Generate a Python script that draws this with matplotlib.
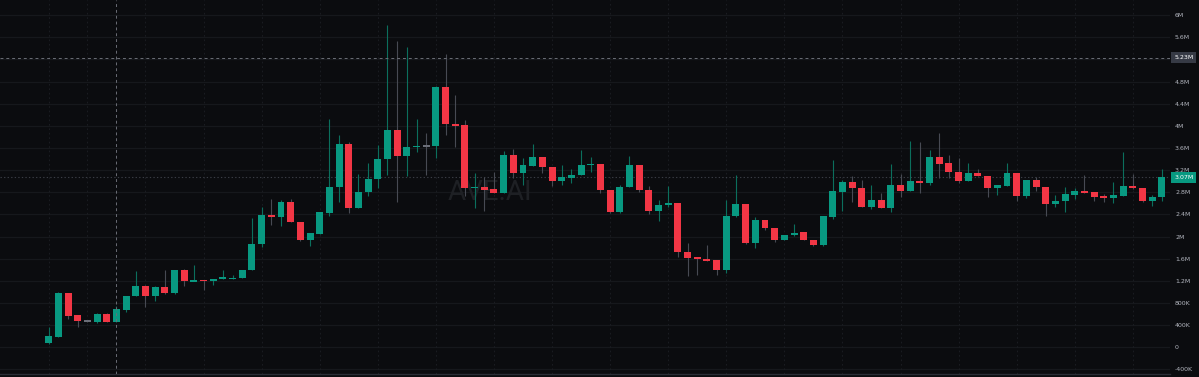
import matplotlib
matplotlib.use("Agg")
import matplotlib.pyplot as plt
import numpy as np

# ---- data (values in millions) ----
opens = [
    0.07, 0.19, 0.98, 0.58, 0.47, 0.46, 0.61, 0.46, 0.68, 0.92,
    1.11, 0.92, 1.09, 0.98, 1.39, 1.19, 1.22, 1.19, 1.24, 1.23,
    1.25, 1.40, 1.86, 2.39, 2.35, 2.62, 2.27, 1.93, 2.04, 2.43,
    2.90, 3.68, 2.51, 2.80, 3.04, 3.41, 3.92, 3.46, 3.61, 3.64,
    3.63, 4.71, 4.04, 4.01, 2.88, 2.89, 2.86, 2.79, 3.47, 3.14,
    3.28, 3.43, 3.25, 3.01, 3.06, 3.11, 3.29, 3.31, 2.85, 2.44,
    2.90, 3.29, 2.85, 2.46, 2.57, 2.60, 1.72, 1.63, 1.60, 1.57,
    1.40, 2.37, 2.59, 1.88, 2.30, 2.16, 1.94, 2.02, 2.08, 1.94,
    1.84, 2.36, 2.81, 2.98, 2.88, 2.54, 2.66, 2.52, 2.93, 2.82,
    3.00, 2.97, 3.44, 3.33, 3.17, 3.01, 3.15, 3.10, 2.87, 2.92,
    3.15, 2.73, 3.02, 2.90, 2.58, 2.64, 2.75, 2.83, 2.80, 2.73,
    2.70, 2.74, 2.91, 2.87, 2.64, 2.71]
closes = [
    0.20, 0.98, 0.57, 0.48, 0.47, 0.61, 0.46, 0.69, 0.92, 1.11,
    0.92, 1.09, 0.98, 1.39, 1.19, 1.21, 1.19, 1.23, 1.26, 1.26,
    1.40, 1.87, 2.39, 2.35, 2.62, 2.27, 1.93, 2.06, 2.44, 2.90,
    3.68, 2.51, 2.81, 3.04, 3.41, 3.92, 3.46, 3.61, 3.64, 3.64,
    4.71, 4.04, 4.00, 2.88, 2.89, 2.85, 2.79, 3.47, 3.14, 3.29,
    3.43, 3.25, 3.01, 3.07, 3.11, 3.29, 3.31, 2.84, 2.44, 2.90,
    3.29, 2.84, 2.46, 2.57, 2.61, 1.72, 1.61, 1.59, 1.56, 1.40,
    2.38, 2.58, 1.88, 2.30, 2.15, 1.94, 2.02, 2.07, 1.94, 1.84,
    2.38, 2.82, 2.98, 2.88, 2.54, 2.66, 2.52, 2.93, 2.83, 3.00,
    2.97, 3.44, 3.32, 3.17, 3.01, 3.15, 3.10, 2.87, 2.93, 3.15,
    2.73, 3.02, 2.90, 2.58, 2.64, 2.77, 2.83, 2.79, 2.72, 2.70,
    2.75, 2.91, 2.87, 2.64, 2.71, 3.07]
highs = [
    0.37, 1.00, 0.99, 0.58, 0.49, 0.62, 0.62, 0.75, 0.93, 1.38,
    1.12, 1.10, 1.39, 1.40, 1.42, 1.49, 1.22, 1.24, 1.40, 1.30,
    1.40, 2.34, 2.54, 2.68, 2.66, 2.68, 2.27, 2.07, 2.44, 4.12,
    3.83, 3.71, 3.13, 3.33, 3.65, 5.82, 5.54, 5.43, 4.12, 3.88,
    4.72, 5.29, 4.55, 4.10, 3.15, 3.07, 3.16, 3.55, 3.58, 3.42,
    3.67, 3.44, 3.25, 3.29, 3.23, 3.56, 3.44, 3.31, 2.85, 2.94,
    3.46, 3.29, 2.92, 2.66, 2.92, 2.61, 1.89, 1.63, 1.85, 1.57,
    2.66, 3.11, 2.59, 2.35, 2.30, 2.16, 2.02, 2.23, 2.08, 1.94,
    2.38, 3.38, 3.02, 3.09, 3.02, 2.93, 2.78, 3.31, 3.13, 3.73,
    3.70, 3.56, 3.88, 3.47, 3.42, 3.33, 3.23, 3.10, 2.93, 3.33,
    3.15, 3.02, 3.07, 2.90, 2.76, 2.89, 2.87, 3.11, 2.80, 2.77,
    2.99, 3.52, 3.13, 2.87, 2.75, 3.22]
lows = [
    0.06, 0.18, 0.51, 0.37, 0.45, 0.44, 0.46, 0.46, 0.63, 0.92,
    0.73, 0.84, 0.96, 0.97, 1.11, 1.19, 1.04, 1.13, 1.24, 1.23,
    1.25, 1.40, 1.82, 2.21, 2.20, 2.26, 1.92, 1.83, 2.04, 2.37,
    2.63, 2.42, 2.51, 2.73, 2.88, 3.11, 2.62, 3.10, 3.53, 3.11,
    3.42, 3.83, 3.61, 2.73, 2.52, 2.47, 2.78, 2.78, 3.05, 2.93,
    3.27, 3.15, 2.91, 2.93, 2.96, 3.11, 3.17, 2.79, 2.43, 2.43,
    2.90, 2.81, 2.41, 2.29, 2.54, 1.64, 1.29, 1.31, 1.56, 1.31,
    1.34, 2.36, 1.87, 1.79, 2.12, 1.91, 1.94, 2.01, 1.93, 1.83,
    1.83, 2.32, 2.47, 2.63, 2.53, 2.50, 2.51, 2.45, 2.72, 2.82,
    2.78, 2.94, 3.05, 3.05, 2.97, 3.00, 3.09, 2.71, 2.75, 2.91,
    2.65, 2.69, 2.83, 2.37, 2.54, 2.45, 2.68, 2.78, 2.65, 2.63,
    2.60, 2.74, 2.86, 2.62, 2.56, 2.64]

tick_values = [-400e3, 0, 400e3, 800e3, 1.2e6, 1.6e6, 2.0e6, 2.4e6, 2.8e6,
               3.2e6, 3.6e6, 4.0e6, 4.4e6, 4.8e6, 5.2e6, 5.6e6, 6.0e6]
tick_labels = ["-400K", "0", "400K", "800K", "1.2M", "1.6M", "2M", "2.4M",
               "2.8M", "3.2M", "3.6M", "4M", "4.4M", "4.8M", "", "5.6M", "6M"]
last_price = 3.07e6
last_label = "3.07M"
cursor_price = 5.23e6
cursor_label = "5.23M"
cursor_index = 7
watermark = "AVE.AI"

# ---- style ----
BG = "#0b0c0f"
UP = "#089981"
DOWN = "#f23645"
FLAT = "#6b6e78"
GRID = "#16181c"

M = 1e6
o = np.array(opens) * M
c = np.array(closes) * M
h = np.array(highs) * M
l = np.array(lows) * M
x = np.arange(len(o))

fig = plt.figure(figsize=(11.99, 3.77), dpi=100, facecolor=BG)
ax = fig.add_axes([0, 3 / 377, 1170 / 1199, 374 / 377], facecolor=BG)

xmin, xmax = -5.03, 115.84
ax.set_xlim(xmin, xmax)
ax.set_ylim(-0.482e6, 6.274e6)

# grid
for tv in tick_values:
    ax.axhline(tv, color=GRID, lw=0.9, zorder=0)
grid_idx = [0] + list(range(4, len(o), 6))
for gi in grid_idx:
    ax.axvline(gi, color="#1a1c21", lw=0.8, ls=(0, (1.5, 2.5)), zorder=0)

# watermark
ax.text(45.6, 2.79e6, watermark, color="#1e2024", fontsize=20,
        ha="center", va="center", family="Roboto", zorder=0.5)

colors = np.where(c > o, UP, np.where(c < o, DOWN, FLAT))
wick_colors = np.where(c > o, "#0b6f5d", "#474a53")

ax.vlines(x, l, h, colors=wick_colors, lw=0.8, zorder=2)
min_h = 0.03 * M
bottoms = np.minimum(o, c)
heights = np.maximum(np.abs(c - o), min_h)
bottoms = np.where(np.abs(c - o) < min_h, (o + c) / 2 - min_h / 2, bottoms)
ax.bar(x, heights, bottom=bottoms, width=0.72, color=colors, linewidth=0, zorder=3)

# last price line
ax.axhline(last_price, color="#3a3d45", lw=0.8, ls=(0, (1.2, 2.0)), zorder=1)

# crosshair
ax.axhline(cursor_price, color="#6a6d76", lw=0.7, ls=(0, (3, 3)), zorder=4)
ax.axvline(cursor_index, color="#6a6d76", lw=0.7, ls=(0, (3, 3)), zorder=4)

# axis styling
for s in ["top", "left", "right"]:
    ax.spines[s].set_visible(False)
ax.spines["bottom"].set_color("#2a2d35")
ax.spines["bottom"].set_linewidth(1.0)
ax.set_xticks([])
ax.yaxis.tick_right()
ax.set_yticks(tick_values)
ax.set_yticklabels(tick_labels)
ax.tick_params(axis="y", length=0, pad=3.6, labelsize=4.5, labelcolor="#b2b5be")
for lab in ax.get_yticklabels():
    lab.set_horizontalalignment("left")

# price tags
ax.annotate(cursor_label, xy=(1.0, cursor_price), xycoords=("axes fraction", "data"),
            xytext=(3.0, 0), textcoords="offset points", ha="left", va="center",
            fontsize=4.5, color="#ffffff",
            bbox=dict(boxstyle="square,pad=0.45", fc="#363a45", ec="none"),
            annotation_clip=False)
ax.annotate(last_label, xy=(1.0, last_price), xycoords=("axes fraction", "data"),
            xytext=(3.0, 0), textcoords="offset points", ha="left", va="center",
            fontsize=4.5, color="#ffffff",
            bbox=dict(boxstyle="square,pad=0.45", fc=UP, ec="none"),
            annotation_clip=False)

fig.savefig("out.png", dpi=100, facecolor=BG)
